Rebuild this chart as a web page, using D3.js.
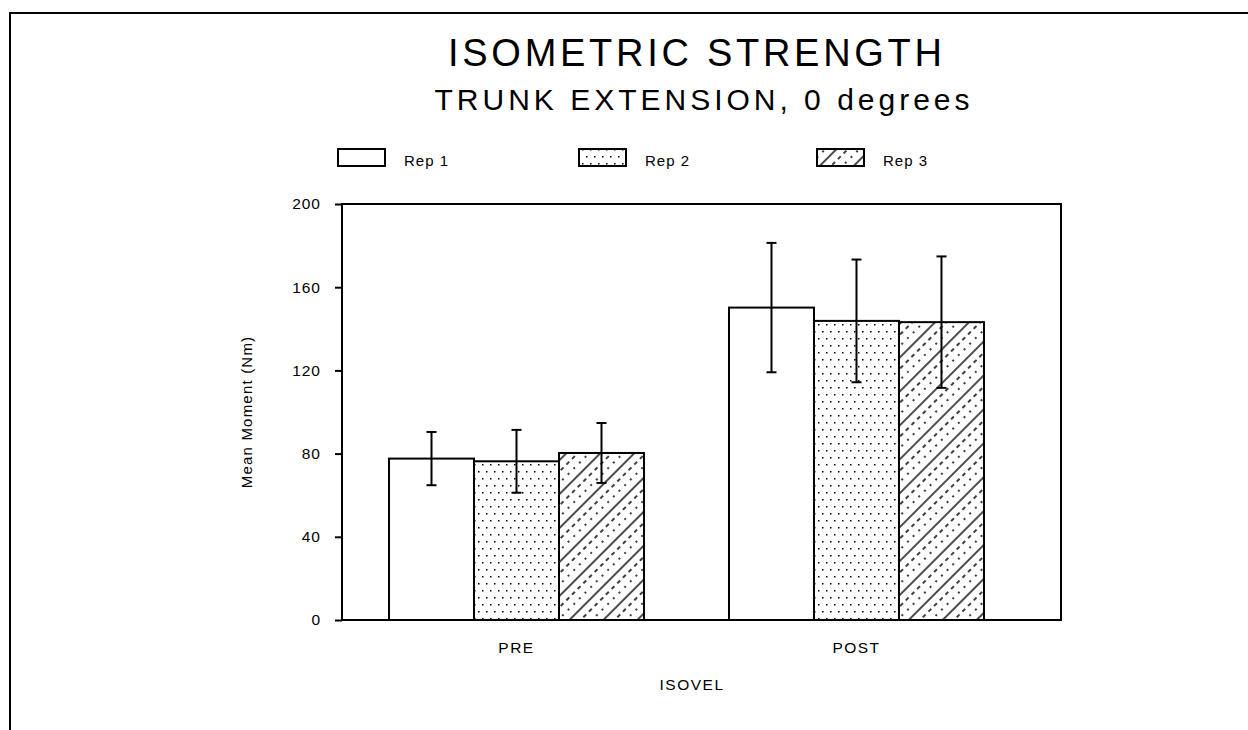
<!DOCTYPE html>
<html><head><meta charset="utf-8">
<script src="https://cdn.jsdelivr.net/npm/d3@7"></script>
<style>body{margin:0;background:#fff}svg{display:block}text{font-family:"Liberation Sans",Arial,sans-serif;fill:#000}</style>
</head><body><svg id="c" width="1248" height="730"></svg>
<script>
const categories = ["PRE", "POST"];
const series = ["Rep 1", "Rep 2", "Rep 3"];
const rep1Mean = [77.6, 150.2];
const rep2Mean = [76.3, 143.8];
const rep3Mean = [80.3, 143.2];
const rep1Err = [12.8, 31.1];
const rep2Err = [15.1, 29.5];
const rep3Err = [14.4, 31.6];
const yTicks = [0, 40, 80, 120, 160, 200];

const svg = d3.select("#c");
const defs = svg.append("defs");
const pDot = defs.append("pattern").attr("id","dots").attr("patternUnits","userSpaceOnUse")
  .attr("width",8).attr("height",14);
pDot.append("rect").attr("width",8).attr("height",14).attr("fill","#fff");
pDot.append("rect").attr("x",2).attr("y",2).attr("width",1.5).attr("height",1.5).attr("fill","#000");
pDot.append("rect").attr("x",6).attr("y",9).attr("width",1.5).attr("height",1.5).attr("fill","#000");
const pH = defs.append("pattern").attr("id","hatch").attr("patternUnits","userSpaceOnUse")
  .attr("width",16).attr("height",24).attr("patternTransform","rotate(-45)");
pH.append("rect").attr("width",16).attr("height",24).attr("fill","#fff");
pH.append("line").attr("x1",0).attr("x2",16).attr("y1",1).attr("y2",1).attr("stroke","#000").attr("stroke-width",1.4);
pH.append("line").attr("x1",0).attr("x2",16).attr("y1",9).attr("y2",9).attr("stroke","#000").attr("stroke-width",1.6).attr("stroke-dasharray","4,4");
pH.append("line").attr("x1",2).attr("x2",18).attr("y1",17).attr("y2",17).attr("stroke","#000").attr("stroke-width",1.6).attr("stroke-dasharray","2,6");
const fills = ["#fff","url(#dots)","url(#hatch)"];

svg.append("path").attr("d","M10,730 L10,13 L1248,13").attr("fill","none").attr("stroke","#000").attr("stroke-width",2);

svg.append("text").attr("x",695).attr("y",66).attr("text-anchor","middle").attr("font-size",38)
  .attr("textLength",494).attr("lengthAdjust","spacing").text("ISOMETRIC STRENGTH");
svg.append("text").attr("x",702).attr("y",110).attr("text-anchor","middle").attr("font-size",30)
  .attr("textLength",535).attr("lengthAdjust","spacing").text("TRUNK EXTENSION, 0 degrees");

const legX = [338, 579, 817];
series.forEach((s,i)=>{
  svg.append("rect").attr("x",legX[i]).attr("y",149).attr("width",47).attr("height",17)
    .attr("fill",fills[i]).attr("stroke","#000").attr("stroke-width",2);
  svg.append("text").attr("x",legX[i]+66).attr("y",166).attr("font-size",15).attr("letter-spacing",1).text(s);
});

const L=342, R=1061, T=204, B=620;
const y = d3.scaleLinear().domain([0,200]).range([B,T]);
const x = d3.scaleBand().domain(categories).range([L,R]).paddingInner(0.25).paddingOuter(0.1824).align(0.379);
const xi = d3.scaleBand().domain(series).range([0,x.bandwidth()]);

const means=[rep1Mean,rep2Mean,rep3Mean], errs=[rep1Err,rep2Err,rep3Err];
const data=[];
categories.forEach((c,ci)=>series.forEach((s,si)=>data.push({c,s,si,v:means[si][ci],e:errs[si][ci]})));

const g=svg.append("g");
g.selectAll("rect.bar").data(data).join("rect").attr("class","bar")
  .attr("x",d=>x(d.c)+xi(d.s)).attr("width",xi.bandwidth())
  .attr("y",d=>y(d.v)).attr("height",d=>y(0)-y(d.v))
  .attr("fill",d=>fills[d.si]).attr("stroke","#000").attr("stroke-width",2);

const eb=g.selectAll("g.eb").data(data).join("g").attr("class","eb")
  .attr("transform",d=>`translate(${x(d.c)+xi(d.s)+xi.bandwidth()/2},0)`);
eb.append("line").attr("y1",d=>y(d.v+d.e)).attr("y2",d=>y(d.v-d.e)).attr("stroke","#000").attr("stroke-width",2);
eb.append("line").attr("x1",-5).attr("x2",5).attr("y1",d=>y(d.v+d.e)).attr("y2",d=>y(d.v+d.e)).attr("stroke","#000").attr("stroke-width",2);
eb.append("line").attr("x1",-5).attr("x2",5).attr("y1",d=>y(d.v-d.e)).attr("y2",d=>y(d.v-d.e)).attr("stroke","#000").attr("stroke-width",2);

svg.append("rect").attr("x",L).attr("y",T).attr("width",R-L).attr("height",B-T).attr("fill","none").attr("stroke","#000").attr("stroke-width",2);

const ya=svg.append("g").attr("transform",`translate(${L},0)`)
  .call(d3.axisLeft(y).tickValues(yTicks).tickSize(7).tickPadding(14));
ya.select(".domain").remove();
ya.selectAll("line").attr("stroke","#000").attr("stroke-width",2);
ya.selectAll("text").attr("font-size",15.5).attr("letter-spacing",1).attr("font-family","Liberation Sans, Arial, sans-serif").attr("fill","#000");

const xa=svg.append("g").attr("transform",`translate(0,${B})`)
  .call(d3.axisBottom(x).tickSize(0).tickPadding(22));
xa.select(".domain").remove();
xa.selectAll("text").attr("font-size",15.5).attr("letter-spacing",1.5).attr("font-family","Liberation Sans, Arial, sans-serif").attr("fill","#000");

svg.append("text").attr("x",692).attr("y",690).attr("text-anchor","middle").attr("font-size",15.5).attr("letter-spacing",1.5).text("ISOVEL");
svg.append("text").attr("transform","translate(252,412) rotate(-90)").attr("text-anchor","middle").attr("font-size",15).attr("letter-spacing",1.2).text("Mean Moment (Nm)");
</script></body></html>
